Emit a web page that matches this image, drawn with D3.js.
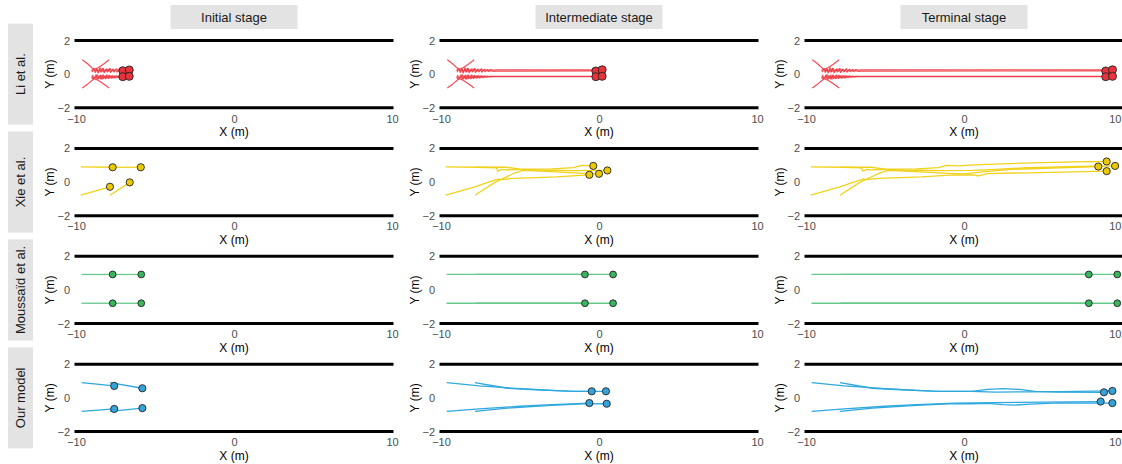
<!DOCTYPE html>
<html>
<head>
<meta charset="utf-8">
<script src="https://cdn.jsdelivr.net/npm/d3@7"></script>
<style>
  body { margin: 0; background: #fff; }
  text { font-family: "Liberation Sans", Arial, sans-serif; }
</style>
</head>
<body>
<svg id="chart" width="1122" height="464"></svg>
<script>
// ---- data ----
var modelNames = ["Li et al.", "Xie et al.", "Moussaïd et al.", "Our model"];
var stageNames = ["Initial stage", "Intermediate stage", "Terminal stage"];
var xTicks = [-10, 0, 10];
var yTicks = [2, 0, -2];

// trajectories, one array of [x, y] per pedestrian
var liPaths = [
  [[-9.6,0.85],[-9.25,0.6],[-8.9,0.3],[-8.75,0.2],[-8.68,0.34],[-8.6,0.06],[-8.5,0.31],[-8.42,0.12],[-8.33,0.35],[-8.22,0.08],[-8.1,0.29],[-8.02,0.13],[-7.9,0.31],[-7.82,0.1],[-7.7,0.27],[-7.6,0.13],[-7.52,0.26],[-7.4,0.12],[-7.3,0.24],[-7.2,0.15],[-7.1,0.23],[-7.0,0.16],[-6.88,0.21],[-6.7,0.17],[-6.5,0.18],[8.97,0.19]],
  [[-7.9,0.85],[-8.25,0.6],[-8.6,0.38],[-9.0,0.25],[-8.95,0.15],[-8.87,0.35],[-8.78,0.1],[-8.66,0.28],[-8.57,0.14],[-8.48,0.37],[-8.36,0.15],[-8.27,0.33],[-8.17,0.16],[-8.04,0.32],[-7.96,0.17],[-7.86,0.34],[-7.74,0.18],[-7.66,0.3],[-7.56,0.19],[-7.44,0.32],[-7.34,0.2],[-7.24,0.29],[-7.16,0.21],[-7.04,0.28],[-6.95,0.22],[-6.85,0.27],[-6.7,0.24],[-6.5,0.26],[9.4,0.26]],
  [[-9.6,-0.82],[-9.25,-0.58],[-8.9,-0.3],[-8.75,-0.18],[-8.66,-0.03],[-8.57,-0.28],[-8.46,-0.06],[-8.36,-0.3],[-8.27,-0.05],[-8.14,-0.27],[-8.06,-0.04],[-7.94,-0.26],[-7.86,-0.07],[-7.74,-0.24],[-7.66,-0.08],[-7.54,-0.23],[-7.46,-0.09],[-7.34,-0.21],[-7.26,-0.1],[-7.14,-0.19],[-7.06,-0.11],[-6.95,-0.17],[-6.85,-0.12],[-6.7,-0.15],[-6.5,-0.14],[8.97,-0.15]],
  [[-7.9,-0.82],[-8.25,-0.58],[-8.6,-0.36],[-9.0,-0.22],[-8.94,-0.07],[-8.86,-0.29],[-8.74,-0.05],[-8.66,-0.31],[-8.54,-0.09],[-8.46,-0.28],[-8.34,-0.06],[-8.26,-0.26],[-8.14,-0.1],[-8.06,-0.25],[-7.94,-0.09],[-7.86,-0.23],[-7.74,-0.11],[-7.66,-0.22],[-7.54,-0.1],[-7.46,-0.2],[-7.36,-0.12],[-7.26,-0.19],[-7.16,-0.12],[-7.05,-0.17],[-6.95,-0.13],[-6.85,-0.16],[-6.7,-0.13],[-6.5,-0.13],[9.4,-0.13]]
];
var xiePaths = [
  [[-9.7,0.9],[-7.68,0.88],[-6.5,0.85],[-6.4,0.65],[-6.16,0.75],[-5.9,0.72],[-4.8,0.76],[-3,0.78],[-1.6,0.86],[-1.1,0.99],[-0.36,0.96],[1,1.04],[3,1.1],[5,1.16],[7,1.2],[9.03,1.22]],
  [[-7.8,0.88],[-5.9,0.88],[-5.2,0.8],[-4.8,0.72],[-3,0.7],[-1.5,0.68],[0.53,0.69],[2,0.75],[4,0.85],[6,0.9],[8,0.94],[9.56,0.96]],
  [[-9.7,-0.78],[-7.85,-0.28],[-6.9,0.02],[-6.37,0.18],[-6.2,0.14],[-5.4,0.22],[-2.7,0.31],[-0.61,0.43],[0.6,0.42],[0.9,0.36],[1.5,0.5],[4,0.55],[7,0.6],[9.03,0.65]],
  [[-7.85,-0.78],[-6.6,-0.02],[-5.4,0.51],[-4.8,0.7],[-3,0.62],[-1,0.52],[0,0.49],[1.2,0.6],[3,0.75],[6,0.85],[8.5,0.92]]
];
var moussaidPaths = [
  [[-9.65,0.92],[7.9,0.92]],
  [[-7.8,0.92],[9.7,0.92]],
  [[-9.65,-0.79],[7.9,-0.79]],
  [[-7.8,-0.79],[9.7,-0.79]]
];
var ourPaths = [
  [[-9.64,0.9],[-7.58,0.71],[-5,0.55],[-3,0.45],[-1.5,0.38],[-0.46,0.39],[0.5,0.38],[1.5,0.5],[2.5,0.55],[3.5,0.5],[4.5,0.39],[6,0.34],[8.86,0.33]],
  [[-7.85,0.9],[-5.8,0.57],[-4,0.48],[-2,0.4],[0.44,0.39],[2,0.34],[4,0.36],[6,0.37],[9.39,0.41]],
  [[-9.64,-0.8],[-7.58,-0.66],[-5,-0.5],[-3,-0.4],[-0.61,-0.31],[2,-0.28],[5,-0.25],[8.65,-0.22]],
  [[-7.85,-0.8],[-5.8,-0.61],[-3,-0.45],[-1,-0.36],[0.49,-0.35],[1.5,-0.33],[2.5,-0.4],[3.2,-0.43],[4.2,-0.37],[6,-0.3],[9.39,-0.31]]
];

// pedestrian positions at each stage (same order as the paths)
var liStops = [
  [[-7.04,0.2],[-6.63,0.25],[-7.04,-0.15],[-6.63,-0.13]],
  [[-0.2,0.19],[0.2,0.26],[-0.2,-0.15],[0.2,-0.13]],
  [[8.97,0.19],[9.4,0.26],[8.97,-0.15],[9.4,-0.13]]
];
var xieStops = [
  [[-7.68,0.88],[-5.9,0.88],[-7.85,-0.28],[-6.6,-0.02]],
  [[-0.36,0.96],[0.53,0.69],[-0.61,0.43],[0,0.49]],
  [[9.03,1.22],[9.56,0.96],[9.03,0.65],[8.5,0.92]]
];
var moussaidStops = [
  [[-7.68,0.92],[-5.87,0.92],[-7.68,-0.79],[-5.87,-0.79]],
  [[-0.89,0.92],[0.89,0.92],[-0.89,-0.79],[0.89,-0.79]],
  [[7.9,0.92],[9.7,0.92],[7.9,-0.79],[9.7,-0.79]]
];
var ourStops = [
  [[-7.58,0.71],[-5.8,0.57],[-7.58,-0.66],[-5.8,-0.61]],
  [[-0.46,0.39],[0.44,0.39],[-0.61,-0.31],[0.49,-0.35]],
  [[8.86,0.33],[9.39,0.41],[8.65,-0.22],[9.39,-0.31]]
];

// ---- styles ----
var lineColors = ["#ee3a44", "#f0d21c", "#66c98c", "#2ea8df"];
var dotColors  = ["#e8333d", "#ebc900", "#3cb35e", "#34a3da"];
var dotRadius  = [4, 3.6, 3.4, 3.6];

var allPaths = [liPaths, xiePaths, moussaidPaths, ourPaths];
var allStops = [liStops, xieStops, moussaidStops, ourStops];

var colLeft = [76, 441, 806];
var panelW = 316;
var rowTop0 = 40.5, rowStep = 107.9, panelH = 67.3;

var svg = d3.select("#chart");

// column strips
svg.selectAll(".colstrip")
  .data(stageNames).enter().append("g")
  .attr("class", "colstrip")
  .each(function(d, j) {
    var cx = colLeft[j] + panelW / 2;
    var g = d3.select(this);
    g.append("rect").attr("x", cx - 63.5).attr("y", 5).attr("width", 127).attr("height", 24)
      .attr("fill", "#e3e3e3");
    g.append("text").attr("x", cx).attr("y", 17).attr("dy", "0.35em")
      .attr("text-anchor", "middle").attr("font-size", 13).attr("fill", "#1a1a1a").text(d);
  });

// row strips
svg.selectAll(".rowstrip")
  .data(modelNames).enter().append("g")
  .attr("class", "rowstrip")
  .each(function(d, i) {
    var cy = rowTop0 + i * rowStep + panelH / 2;
    var g = d3.select(this);
    g.append("rect").attr("x", 8).attr("y", cy - 50.5).attr("width", 25).attr("height", 101)
      .attr("fill", "#e3e3e3");
    g.append("text").attr("transform", "translate(20.5," + cy + ") rotate(-90)")
      .attr("dy", "0.35em").attr("text-anchor", "middle").attr("font-size", 13)
      .attr("fill", "#1a1a1a").text(d);
  });

function upTo(path, pos) {
  var last = 0;
  path.forEach(function(p, k) { if (p[0] <= pos[0]) last = k; });
  return path.slice(0, last + 1).concat([pos]);
}

var fmt = function(d) { return d < 0 ? "\u2212" + Math.abs(d) : d; };

modelNames.forEach(function(name, i) {
  var top = rowTop0 + i * rowStep;
  var y = d3.scaleLinear().domain([-2, 2]).range([top + panelH, top]);

  stageNames.forEach(function(stage, j) {
    var x = d3.scaleLinear().domain([-10, 10]).range([colLeft[j], colLeft[j] + panelW]);
    var g = svg.append("g").attr("class", "panel");

    // walls
    g.selectAll(".wall").data([-2, 2]).enter().append("line")
      .attr("x1", x(-10)).attr("x2", x(10))
      .attr("y1", function(d) { return y(d); }).attr("y2", function(d) { return y(d); })
      .attr("stroke", "#000").attr("stroke-width", 3).attr("stroke-linecap", "square");

    // axes
    var ax = g.append("g").attr("transform", "translate(0," + (top + panelH) + ")")
      .call(d3.axisBottom(x).tickValues(xTicks).tickSize(0).tickPadding(7).tickFormat(fmt));
    ax.select(".domain").remove();
    ax.attr("font-size", 11).attr("font-family", "Liberation Sans, Arial, sans-serif").attr("color", "#4d4d4d");
    if (j === 2) {
      // last tick sits on the page edge
      ax.selectAll(".tick text").filter(function(d) { return d === 10; })
        .attr("text-anchor", "end").attr("x", 1121 - x(10));
    }

    var ay = g.append("g").attr("transform", "translate(" + colLeft[j] + ",0)")
      .call(d3.axisLeft(y).tickValues(yTicks).tickSize(0).tickPadding(6).tickFormat(fmt));
    ay.select(".domain").remove();
    ay.attr("font-size", 11).attr("font-family", "Liberation Sans, Arial, sans-serif").attr("color", "#4d4d4d");

    g.append("text").attr("x", x(0)).attr("y", top + panelH + 28)
      .attr("text-anchor", "middle").attr("font-size", 12).attr("fill", "#000").text("X (m)");
    g.append("text").attr("transform", "translate(" + (colLeft[j] - 26) + "," + (top + panelH / 2) + ") rotate(-90)")
      .attr("dy", "0.35em").attr("text-anchor", "middle").attr("font-size", 12).attr("fill", "#000").text("Y (m)");

    // trajectories
    var line = d3.line().x(function(d) { return x(d[0]); }).y(function(d) { return y(d[1]); });
    var stops = allStops[i][j];
    g.selectAll(".traj").data(allPaths[i]).enter().append("path")
      .attr("d", function(p, k) { return line(upTo(p, stops[k])); })
      .attr("fill", "none").attr("stroke", lineColors[i])
      .attr("stroke-width", i === 0 ? 1.2 : 1.3)
      .attr("stroke-opacity", i === 0 ? 0.9 : 1)
      .attr("stroke-linejoin", "round");

    // pedestrians
    g.selectAll(".ped").data(stops).enter().append("circle")
      .attr("cx", function(d) { return x(d[0]); })
      .attr("cy", function(d) { return y(d[1]); })
      .attr("r", dotRadius[i])
      .attr("fill", dotColors[i]).attr("stroke", "#222").attr("stroke-width", 0.9);
  });
});
</script>
</body>
</html>
